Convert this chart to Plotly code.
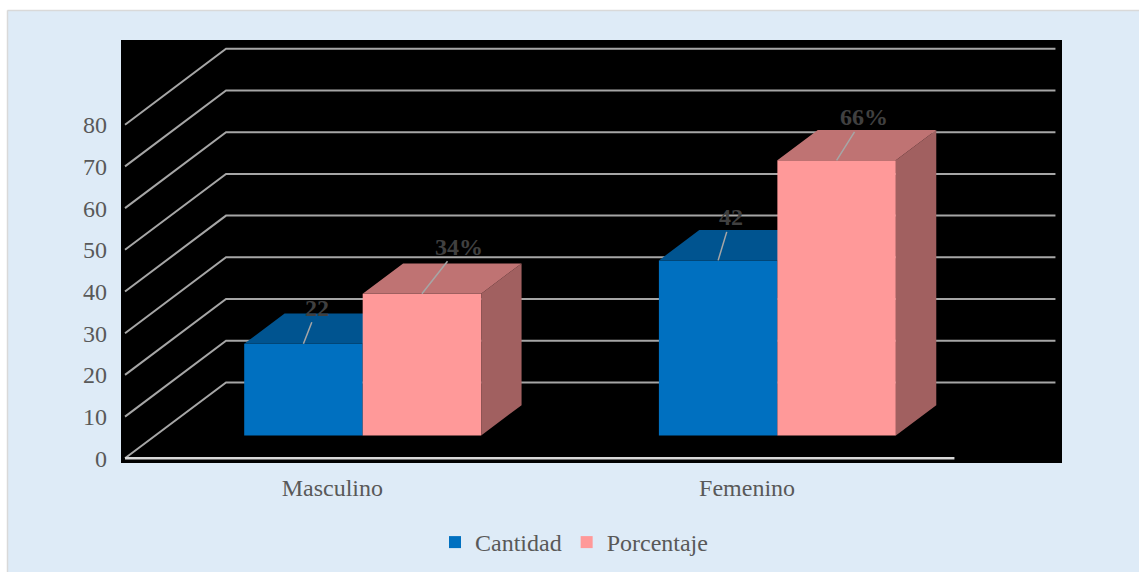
import plotly.graph_objects as go

# ---- data ----
categories = ["Masculino", "Femenino"]
series_names = ["Cantidad", "Porcentaje"]
cantidad = [22, 42]
porcentaje = [34, 66]
label_suffix = ["", "%"]
y_ticks = [0, 10, 20, 30, 40, 50, 60, 70, 80]

# ---- layout / style ----
W, H = 1139, 572
L, R, T, B = 121, 77, 40, 109
PW, PH = W - L - R, H - T - B
X_RANGE = [-0.5097, 1.7594]
Y_RANGE = [-1.127, 100.31]
DEPTH_X, DEPTH_Y = 0.2436, 18.2      # oblique offset of the back wall
D_FRONT, D_BACK = 0.3, 0.7           # depth slab occupied by the bars
BAR_W = 0.2857
FONT = "Liberation Serif"
TXT = "#595959"
GRID = "#A6A6A6"
FLOOR = "#D9D9D9"
BG = "#DEEBF7"
# front, top, side shades per series
FACES = [("#0070C0", "#005490", "#004779"),
         ("#FF9999", "#BF7373", "#A16060")]
# pixel offset of each value label from the bar's front-top edge
LABEL_SHIFT = [[(14, -36), (13, -43)],
               [(37, -47), (27, -43)]]

series_values = [cantidad, porcentaje]


def px_x(p):
    return (p - L) / PW


def px_y(p):
    return 1 - (p - T) / PH


fig = go.Figure()

# back wall gridlines with their oblique side-wall segments
gx, gy = [], []
n = len(categories)
for v in y_ticks:
    gx += [-0.5, -0.5 + DEPTH_X, n - 0.5 + DEPTH_X, None]
    gy += [v, v + DEPTH_Y, v + DEPTH_Y, None]
fig.add_trace(go.Scatter(x=gx, y=gy, mode="lines", line=dict(color=GRID, width=2),
                         hoverinfo="skip", showlegend=False, xaxis="x", yaxis="y"))
# front edge of the floor
fig.add_trace(go.Scatter(x=[-0.5, n - 0.5], y=[0, 0], mode="lines",
                         line=dict(color=FLOOR, width=2.5),
                         hoverinfo="skip", showlegend=False, xaxis="x", yaxis="y"))

base = D_FRONT * DEPTH_Y
ddx = (D_BACK - D_FRONT) * DEPTH_X
ddy = (D_BACK - D_FRONT) * DEPTH_Y
annotations = []

for s, (name, vals) in enumerate(zip(series_names, series_values)):
    xa, ya = "x%d" % (s + 2), "y%d" % (s + 2)
    front, top, side = FACES[s]
    cx = [i + (s - 0.5) * BAR_W + D_FRONT * DEPTH_X for i in range(n)]
    fig.add_trace(go.Bar(x=cx, y=vals, base=base, width=BAR_W, offset=-BAR_W / 2,
                         marker=dict(color=front, line=dict(width=0)),
                         name=name, xaxis=xa, yaxis=ya, hoverinfo="skip"))
    tx, ty, sx, sy = [], [], [], []
    for c, v in zip(cx, vals):
        x0, x1, yt = c - BAR_W / 2, c + BAR_W / 2, base + v
        tx += [x0, x1, x1 + ddx, x0 + ddx, x0, None]
        ty += [yt, yt, yt + ddy, yt + ddy, yt, None]
        sx += [x1, x1 + ddx, x1 + ddx, x1, x1, None]
        sy += [base, base + ddy, yt + ddy, yt, base, None]
    fig.add_trace(go.Scatter(x=sx, y=sy, mode="none", fill="toself", fillcolor=side,
                             hoverinfo="skip", showlegend=False, xaxis=xa, yaxis=ya))
    fig.add_trace(go.Scatter(x=tx, y=ty, mode="none", fill="toself", fillcolor=top,
                             hoverinfo="skip", showlegend=False, xaxis=xa, yaxis=ya))
    for i, (c, v) in enumerate(zip(cx, vals)):
        dx, dy = LABEL_SHIFT[s][i]
        annotations.append(dict(
            x=c, y=base + v, xref="x", yref="y",
            text="%d%s" % (v, label_suffix[s]),
            showarrow=True, arrowhead=0, arrowwidth=1.5, arrowcolor=GRID,
            standoff=0, startstandoff=0, ax=dx, ay=dy,
            font=dict(family=FONT, size=24, color="#404040", weight="bold")))

axis_common = dict(showgrid=False, zeroline=False, showline=False, fixedrange=True)
layout_axes = dict(
    xaxis=dict(range=X_RANGE, tickvals=list(range(n)), ticktext=categories, ticks="",
               ticklabelstandoff=8,
               tickfont=dict(family=FONT, size=24, color=TXT), **axis_common),
    yaxis=dict(range=Y_RANGE, tickvals=y_ticks, ticks="", ticklabelstandoff=13,
               tickfont=dict(family=FONT, size=24, color=TXT), **axis_common),
)
for k in (2, 3):
    layout_axes["xaxis%d" % k] = dict(range=X_RANGE, overlaying="x", anchor="y%d" % k,
                                      visible=False, **axis_common)
    layout_axes["yaxis%d" % k] = dict(range=Y_RANGE, overlaying="y", anchor="x%d" % k,
                                      visible=False, **axis_common)

shapes = [
    # white strips and thin border around the chart area
    dict(type="rect", xref="paper", yref="paper", x0=px_x(0), x1=px_x(W), y0=px_y(0), y1=px_y(10),
         fillcolor="white", line=dict(width=0), layer="above"),
    dict(type="rect", xref="paper", yref="paper", x0=px_x(0), x1=px_x(7), y0=px_y(0), y1=px_y(H),
         fillcolor="white", line=dict(width=0), layer="above"),
    dict(type="line", xref="paper", yref="paper", x0=px_x(7.5), x1=px_x(W), y0=px_y(10.5), y1=px_y(10.5),
         line=dict(color=FLOOR, width=1.5), layer="above"),
    dict(type="line", xref="paper", yref="paper", x0=px_x(7.5), x1=px_x(7.5), y0=px_y(10.5), y1=px_y(H),
         line=dict(color=FLOOR, width=1.5), layer="above"),
]

fig.update_layout(
    width=W, height=H, margin=dict(l=L, r=R, t=T, b=B, autoexpand=False),
    paper_bgcolor=BG, plot_bgcolor="black",
    barmode="overlay",
    showlegend=True,
    legend=dict(orientation="h", x=px_x(574), xanchor="center", y=px_y(542.5), yanchor="middle",
                font=dict(family=FONT, size=24, color=TXT), bgcolor="rgba(0,0,0,0)",
                traceorder="normal", itemclick=False, itemdoubleclick=False),
    annotations=annotations,
    shapes=shapes,
    **layout_axes,
)

fig.write_html("out.html")
